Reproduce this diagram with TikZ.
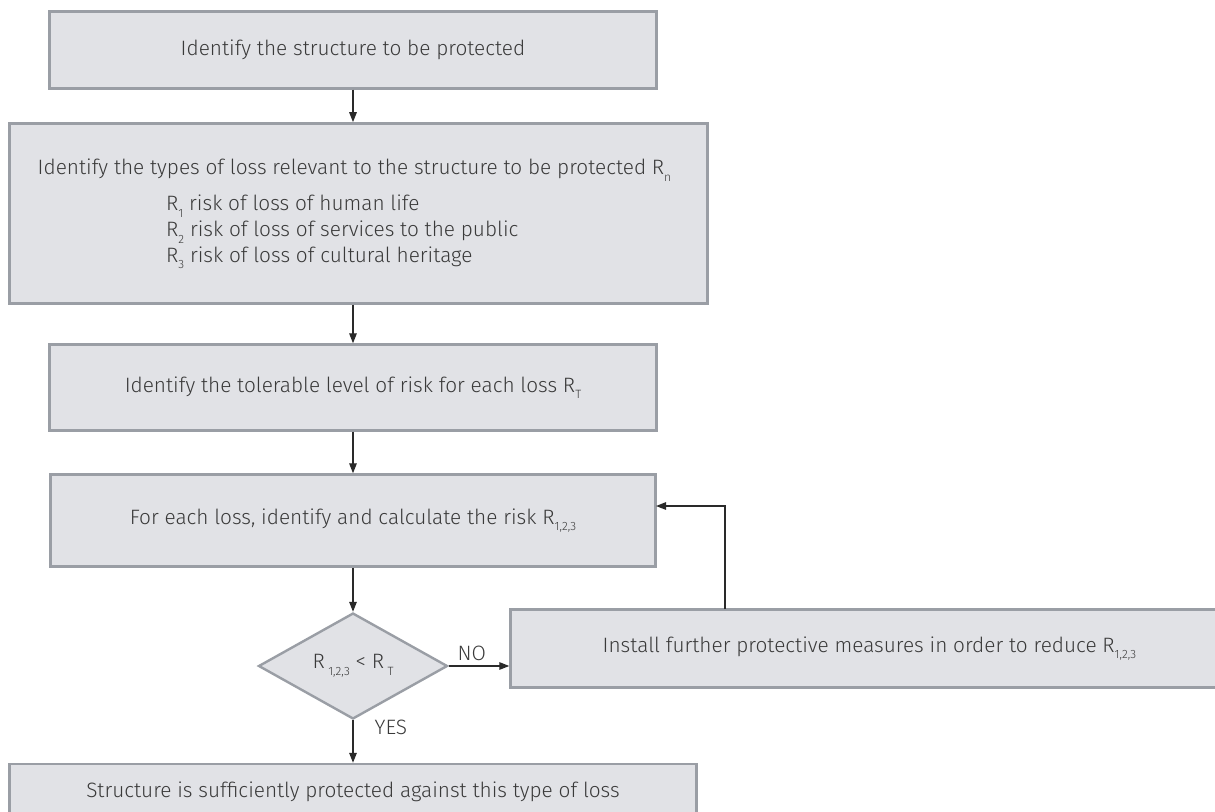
\documentclass[tikz,border=0pt]{standalone}
\usepackage{fontspec}
\setmainfont{Fira Sans Light}
\usetikzlibrary{arrows.meta,shapes.geometric}
\definecolor{boxfill}{HTML}{E1E2E6}
\definecolor{boxline}{HTML}{9A9EA5}
\definecolor{txtc}{HTML}{3A3A3A}
\definecolor{arrc}{HTML}{2A2A2A}
\newcommand\lsub[1]{\raisebox{-0.6ex}{\fontsize{12}{12}\selectfont #1}}
\newcommand\fsz{\fontsize{20.8}{25.7}\selectfont}
\begin{document}
\begin{tikzpicture}[x=1pt,y=-1pt,
  box/.style={draw=boxline, fill=boxfill, line width=2.4pt, inner sep=0pt, text=txtc, font=\fsz},
  dia/.style={diamond, draw=boxline, fill=boxfill, line width=2.4pt, inner sep=0pt, text=txtc, font=\fsz},
  lbl/.style={text=txtc, font=\fsz, inner sep=0pt},
  flow/.style={draw=arrc, line width=1.3pt, -{Triangle[length=10pt,width=7.5pt]}}]
\useasboundingbox (0,0) rectangle (1215,811);
% boxes
\node[box, minimum width=607pt, minimum height=77pt] (b1) at (353,50) {Identify the structure to be protected};
\node[box, minimum width=698pt, minimum height=180pt] (b2) at (358.5,213.4) {};
\node[lbl] (t2) at (354.5,170) {Identify the types of loss relevant to the structure to be protected R\lsub{n}};
\node[lbl, anchor=west, align=left] (t2r) at (166,232) {R\lsub{1} risk of loss of human life\\R\lsub{2} risk of loss of services to the public\\R\lsub{3} risk of loss of cultural heritage};
\node[box, minimum width=607pt, minimum height=86pt] (b3) at (353,387.5) {Identify the tolerable level of risk for each loss R\lsub{T}};
\node[box, minimum width=605pt, minimum height=92pt] (b4) at (353,520.5) {For each loss, identify and calculate the risk R\lsub{1,2,3}};
\node[dia, minimum width=189pt, minimum height=106pt, aspect=1.78] (d) at (353,666) {R\,\lsub{1,2,3} {<} R\,\lsub{T}};
\node[box, minimum width=718pt, minimum height=78pt] (b5) at (869.5,648.5) {Install further protective measures in order to reduce R\lsub{1,2,3}};
\node[box, minimum width=687pt, minimum height=56pt] (b6) at (353,792) {Structure is sufficiently protected against this type of loss};
% connectors
\draw[flow] (b1.south) -- (b1.south |- b2.north);
\draw[flow] (b2.south -| b1.south) -- (b3.north);
\draw[flow] (b3.south) -- (b4.north);
\draw[flow] (b4.south) -- (d.north);
\draw[flow] (d.east) -- (d.east -| b5.west) node[lbl, pos=0.38, above=5pt] (no) {NO};
\coordinate (up) at (725,609);
\coordinate (in4) at (656,506);
\draw[flow] (up) |- (in4);
\draw[flow] (d.south) -- (d.south |- b6.north) node[lbl, pos=0.16, right=21pt] (yes) {YES};
\end{tikzpicture}
\end{document}
